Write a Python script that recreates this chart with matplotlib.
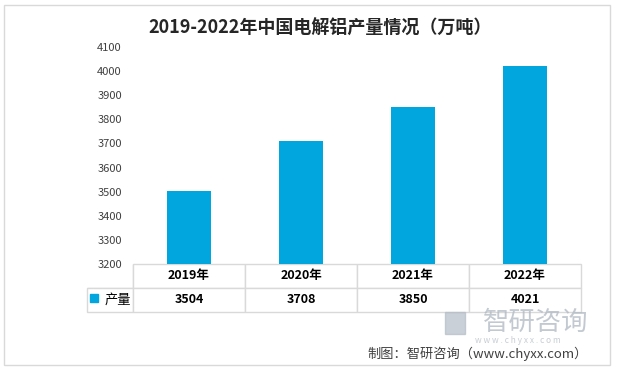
import matplotlib.pyplot as plt
from matplotlib.patches import Rectangle

plt.rcParams['font.family'] = ['Noto Sans CJK SC', 'DejaVu Sans']

years = ["2019年", "2020年", "2021年", "2022年"]
output = [3504, 3708, 3850, 4021]
series_name = "产量"
yticks = [3200, 3300, 3400, 3500, 3600, 3700, 3800, 3900, 4000, 4100]

bar_color = "#00a6dd"
line_color = "#d9d9d9"

fig = plt.figure(figsize=(6.17, 3.71), dpi=100)
fig.patches.append(Rectangle((0.007, 0.016), 0.982, 0.97, transform=fig.transFigure,
                             fill=False, edgecolor=line_color, linewidth=1))

ax = fig.add_axes([0.2156, 0.2884, 0.726, 0.585])
x = list(range(len(years)))
ax.bar(x, output, width=0.39, color=bar_color)
ax.set_xlim(-0.5, len(years) - 0.5)
ax.set_ylim(3200, 4100)
ax.set_yticks(yticks)
ax.tick_params(axis='y', length=0, pad=8, labelsize=8, labelcolor="#404040")
ax.set_xticks([])
for s in ax.spines.values():
    s.set_visible(False)

# data table under the bars
cell_text = [[""] + years, [series_name] + [str(v) for v in output]]
tbl = ax.table(cellText=cell_text, cellLoc='center',
               colWidths=[46, 112, 112, 112, 112],
               bbox=[-0.1027, -0.221, 1.1027, 0.221])
tbl.auto_set_font_size(False)
for (r, c), cell in tbl.get_celld().items():
    cell.set_edgecolor(line_color)
    cell.set_linewidth(1)
    cell.get_text().set_fontsize(9)
    if c > 0:
        cell.get_text().set_fontweight('bold')
    if r == 0 and c == 0:
        cell.visible_edges = 'BR'
name_cell = tbl[1, 0]
name_cell.PAD = 0.04
name_cell.get_text().set_horizontalalignment('right')
name_cell.get_text().set_fontsize(9.5)
name_cell._loc = 'right'

# legend key in the table
ax.add_patch(Rectangle((-0.095, -0.175), 0.016, 0.037, transform=ax.transAxes,
                       color=bar_color, clip_on=False))

fig.text(0.518, 0.925, "2019-2022年中国电解铝产量情况（万吨）", ha='center', va='center',
         fontsize=13, fontweight='bold', color="#262626")

# watermark
fig.text(0.868, 0.13, "智研咨询", ha='center', va='center', fontsize=19,
         color="#b4bcc6", alpha=0.8)
fig.patches.append(Rectangle((0.722, 0.1), 0.032, 0.058, transform=fig.transFigure,
                             color="#b4bcc6", alpha=0.7))
fig.text(0.84, 0.083, "w w w . c h y x x . c o m", ha='center', va='center',
         fontsize=6, color="#c8cdd3")

fig.text(0.595, 0.045, "制图：智研咨询（www.chyxx.com）", ha='left', va='center',
         fontsize=9.5, color="#404040")

fig.savefig("out.png", dpi=100)
